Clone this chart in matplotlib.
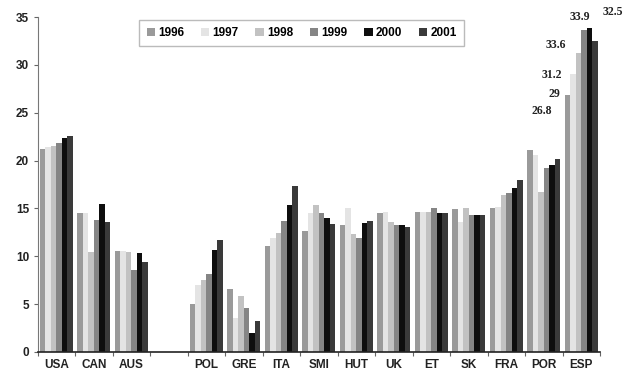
import numpy as np
import matplotlib
matplotlib.use("Agg")
import matplotlib.pyplot as plt

# Countries (an empty slot separates the non-European group)
categories = ["USA", "CAN", "AUS", "", "POL", "GRE", "ITA", "SMI", "HUT",
              "UK", "ET", "SK", "FRA", "POR", "ESP"]
years = ["1996", "1997", "1998", "1999", "2000", "2001"]

v1996 = [21.2, 14.5, 10.6, np.nan, 5.0, 6.6, 11.1, 12.6, 13.3, 14.5, 14.6, 14.9, 15.0, 21.1, 26.8]
v1997 = [21.4, 14.5, 10.6, np.nan, 7.0, 3.6, 11.9, 14.5, 15.0, 14.6, 14.6, 13.6, 15.2, 20.6, 29.0]
v1998 = [21.5, 10.4, 10.5, np.nan, 7.5, 5.8, 12.4, 15.4, 12.3, 13.6, 14.6, 15.0, 16.4, 16.7, 31.2]
v1999 = [21.8, 13.8, 8.6, np.nan, 8.1, 4.6, 13.7, 14.5, 11.9, 13.3, 15.0, 14.3, 16.6, 19.2, 33.6]
v2000 = [22.4, 15.5, 10.3, np.nan, 10.7, 2.0, 15.4, 14.0, 13.5, 13.3, 14.5, 14.3, 17.1, 19.5, 33.9]
v2001 = [22.6, 13.6, 9.4, np.nan, 11.7, 3.2, 17.3, 13.4, 13.7, 13.1, 14.5, 14.3, 18.0, 20.2, 32.5]

series = [v1996, v1997, v1998, v1999, v2000, v2001]
colors = ["#9a9a9a", "#e4e4e4", "#c2c2c2", "#858585", "#0e0e0e", "#3a3a3a"]

# Offsets (pixels) of the value labels written next to the ESP bars
esp_label_offsets = [(-26, -16), (-19, -20), (-27, -22), (-28, -15), (-10, 11), (18, 29)]

fig = plt.figure(figsize=(6.33, 3.83), dpi=100)
ax = fig.add_axes([37.5 / 633, 1 - 352 / 383, 562.5 / 633, 335 / 383])

n = len(series)
group_w = 0.88
bw = group_w / n
x = np.arange(len(categories))

for i, (vals, col) in enumerate(zip(series, colors)):
    pos = x - group_w / 2 + bw * (i + 0.5)
    ax.bar(pos, vals, width=bw, color=col, edgecolor="none", label=years[i], zorder=2)
    # value label on the ESP bar
    esp_x = pos[-1]
    esp_v = vals[-1]
    dx, dy = esp_label_offsets[i]
    txt = f"{esp_v:g}"
    ax.annotate(txt, xy=(esp_x, esp_v), xytext=(dx, dy), textcoords="offset pixels",
                ha="center", va="center", fontsize=8.5, family="Liberation Serif",
                fontweight="bold", color="#222222", annotation_clip=False)

ax.set_xlim(-0.5, len(categories) - 0.5)
ax.set_ylim(0, 35)
ax.set_yticks(range(0, 36, 5))

ax.set_xticks(x)
ax.set_xticklabels(categories)
ax.set_xticks(np.arange(-0.5, len(categories) + 0.5, 1), minor=True)
ax.tick_params(axis="x", which="major", length=0, pad=5)
ax.tick_params(axis="x", which="minor", length=3, width=0.8, color="#666666", direction="out")
ax.tick_params(axis="y", length=3, width=0.8, color="#666666", pad=3)

for lab in ax.get_xticklabels() + ax.get_yticklabels():
    lab.set_family("Liberation Sans")
    lab.set_fontsize(8.5)
    lab.set_fontweight("bold")
    lab.set_color("#222222")

ax.spines["top"].set_visible(False)
ax.spines["right"].set_visible(False)
ax.spines["left"].set_color("#777777")
ax.spines["left"].set_linewidth(0.8)
ax.spines["bottom"].set_color("#222222")
ax.spines["bottom"].set_linewidth(1.2)

leg = ax.legend(loc="center", bbox_to_anchor=(0.47, 0.952), ncol=6, frameon=True,
                fancybox=False, handlelength=0.7, handleheight=0.7, handletextpad=0.3,
                columnspacing=1.4, borderpad=0.6,
                prop={"family": "Liberation Sans", "size": 8.5, "weight": "bold"})
leg.get_frame().set_edgecolor("#aaaaaa")
leg.get_frame().set_linewidth(1.0)

fig.savefig("out.png", dpi=100)
